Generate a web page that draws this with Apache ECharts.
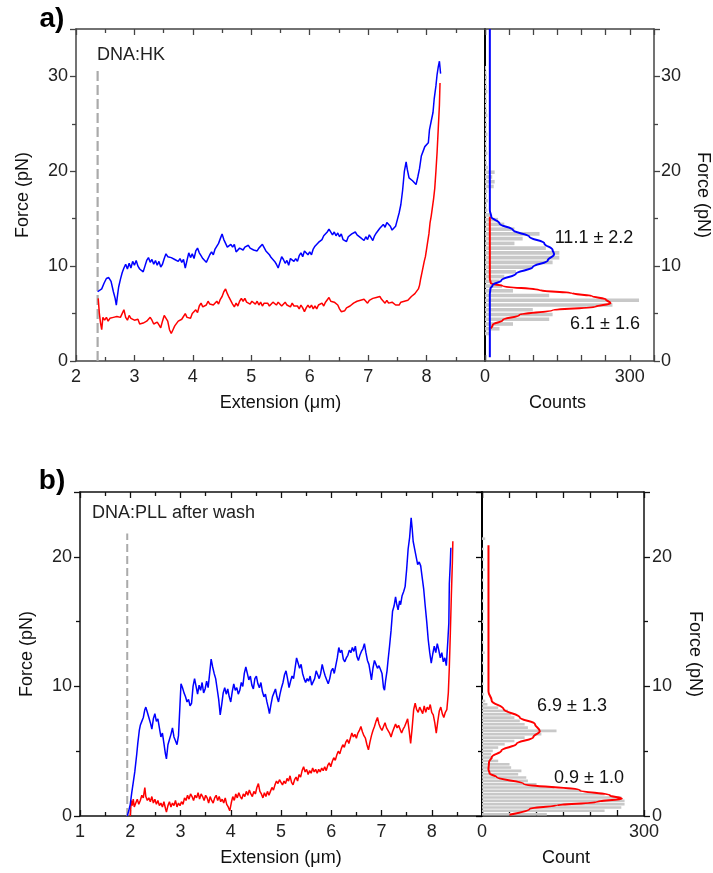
<!DOCTYPE html>
<html><head><meta charset="utf-8">
<script src="https://cdn.jsdelivr.net/npm/echarts/dist/echarts.min.js"></script>
<style>html,body{margin:0;padding:0;background:#fff}#c{width:713px;height:873px}</style>
</head><body><div id="c"></div>
<script>
// ---------------- DATA ----------------
// Panel a: force-extension traces [extension µm, force pN]
const traceA_blue = [[2.37,7.3],[2.40,7.4],[2.44,7.6],[2.48,8.2],[2.52,8.7],[2.56,8.8],[2.60,8.4],[2.64,7.3],[2.67,6.6],[2.69,5.9],[2.71,6.9],[2.73,7.8],[2.76,8.6],[2.79,9.3],[2.82,9.8],[2.85,10.2],[2.88,9.7],[2.91,10.3],[2.94,9.8],[2.97,10.5],[3.00,10.1],[3.03,10.6],[3.06,10.0],[3.09,9.7],[3.12,9.9],[3.15,9.4],[3.18,10.0],[3.21,10.6],[3.24,10.9],[3.27,10.4],[3.30,10.7],[3.33,10.2],[3.36,10.6],[3.39,10.1],[3.42,10.5],[3.45,9.9],[3.48,10.2],[3.51,10.8],[3.54,11.3],[3.57,11.0],[3.60,11.2],[3.63,10.9],[3.66,11.1],[3.69,10.7],[3.72,10.9],[3.75,10.5],[3.78,10.8],[3.81,10.4],[3.84,10.7],[3.87,9.8],[3.90,10.6],[3.93,11.4],[3.96,10.9],[3.99,11.3],[4.02,10.8],[4.05,11.6],[4.08,11.9],[4.11,11.4],[4.14,11.1],[4.17,10.8],[4.20,11.0],[4.23,10.4],[4.26,10.6],[4.29,11.2],[4.32,11.5],[4.35,11.2],[4.38,11.8],[4.41,12.0],[4.44,12.4],[4.47,12.9],[4.50,13.4],[4.53,12.8],[4.56,12.6],[4.59,12.0],[4.62,11.8],[4.65,12.3],[4.68,12.0],[4.71,12.3],[4.74,11.5],[4.77,11.3],[4.80,11.9],[4.83,12.1],[4.86,11.7],[4.89,12.0],[4.92,11.8],[4.95,12.2],[4.98,11.9],[5.01,12.1],[5.04,11.7],[5.07,11.9],[5.10,11.6],[5.13,11.9],[5.16,11.7],[5.19,12.3],[5.22,12.1],[5.25,11.6],[5.28,11.4],[5.31,11.2],[5.34,10.9],[5.37,11.1],[5.40,10.5],[5.43,10.2],[5.46,9.8],[5.49,10.4],[5.52,11.0],[5.55,10.7],[5.58,10.3],[5.61,10.6],[5.64,10.1],[5.67,10.8],[5.70,11.0],[5.73,10.5],[5.76,10.8],[5.79,10.5],[5.82,11.1],[5.85,11.4],[5.88,11.0],[5.91,11.6],[5.94,11.8],[5.97,11.2],[6.00,11.5],[6.03,11.2],[6.06,11.8],[6.09,12.1],[6.12,12.0],[6.15,12.5],[6.18,12.3],[6.21,12.8],[6.24,13.2],[6.27,13.1],[6.30,13.6],[6.33,13.9],[6.36,13.7],[6.39,13.3],[6.42,13.6],[6.45,13.2],[6.48,13.5],[6.51,13.1],[6.54,13.4],[6.57,12.8],[6.60,13.0],[6.63,12.6],[6.66,13.1],[6.69,12.9],[6.72,13.4],[6.75,13.2],[6.78,13.6],[6.81,13.3],[6.84,13.5],[6.87,13.0],[6.90,13.2],[6.93,12.7],[6.96,13.1],[6.99,12.8],[7.02,13.3],[7.05,13.0],[7.08,12.7],[7.11,13.2],[7.14,13.5],[7.17,13.7],[7.20,14.0],[7.23,13.9],[7.26,14.4],[7.29,14.1],[7.32,14.6],[7.35,14.8],[7.38,14.2],[7.41,13.8],[7.44,13.6],[7.47,14.2],[7.50,14.9],[7.53,15.6],[7.56,16.5],[7.59,18.0],[7.62,20.0],[7.65,21.0],[7.67,20.2],[7.70,19.3],[7.73,19.1],[7.76,19.0],[7.79,18.8],[7.82,18.6],[7.85,19.4],[7.88,20.3],[7.91,21.6],[7.94,22.1],[7.97,22.6],[8.00,22.5],[8.03,23.0],[8.05,24.4],[8.08,25.3],[8.11,26.2],[8.13,27.6],[8.16,29.0],[8.18,30.2],[8.20,31.0],[8.22,31.6],[8.24,30.3]];
const traceA_red = [[2.38,6.6],[2.40,5.0],[2.42,4.0],[2.44,3.3],[2.46,4.6],[2.49,4.3],[2.52,4.6],[2.55,4.2],[2.58,4.5],[2.61,4.3],[2.64,4.6],[2.67,4.4],[2.70,4.7],[2.73,4.5],[2.76,4.6],[2.79,5.0],[2.82,5.4],[2.85,4.6],[2.88,4.3],[2.91,4.8],[2.94,4.5],[2.97,4.7],[3.00,4.3],[3.03,4.1],[3.06,4.4],[3.09,3.9],[3.12,3.7],[3.15,4.0],[3.18,3.8],[3.21,4.2],[3.24,4.0],[3.27,4.6],[3.30,4.3],[3.33,3.9],[3.36,3.7],[3.39,4.1],[3.42,3.8],[3.45,3.5],[3.48,4.2],[3.51,4.8],[3.54,5.0],[3.57,4.2],[3.60,3.3],[3.63,2.9],[3.66,3.3],[3.69,3.7],[3.72,3.9],[3.75,4.2],[3.78,4.0],[3.81,4.4],[3.84,4.6],[3.87,5.0],[3.90,4.6],[3.93,4.8],[3.96,4.5],[3.99,5.0],[4.02,5.2],[4.05,5.4],[4.08,5.1],[4.11,5.8],[4.14,6.1],[4.17,5.7],[4.20,5.5],[4.23,5.9],[4.26,6.3],[4.29,6.0],[4.32,6.2],[4.35,5.9],[4.38,6.1],[4.41,6.3],[4.44,6.0],[4.47,6.5],[4.50,6.8],[4.53,7.3],[4.56,7.6],[4.59,7.1],[4.62,6.7],[4.65,6.5],[4.68,6.0],[4.71,5.7],[4.74,6.1],[4.77,5.8],[4.80,6.3],[4.83,6.6],[4.86,6.3],[4.89,6.6],[4.92,6.2],[4.95,6.4],[4.98,6.0],[5.01,6.3],[5.04,6.1],[5.07,6.0],[5.10,6.3],[5.13,5.9],[5.16,6.2],[5.19,5.8],[5.22,6.1],[5.25,5.9],[5.28,6.1],[5.31,5.8],[5.34,6.0],[5.37,6.2],[5.40,6.0],[5.43,5.9],[5.46,6.2],[5.49,6.1],[5.52,5.8],[5.55,6.0],[5.58,6.2],[5.61,5.9],[5.64,6.0],[5.67,5.7],[5.70,6.1],[5.73,5.8],[5.76,6.0],[5.79,5.8],[5.82,5.5],[5.85,5.9],[5.88,5.6],[5.91,5.2],[5.94,5.6],[5.97,5.9],[6.00,5.6],[6.03,5.9],[6.06,5.5],[6.09,5.8],[6.12,5.5],[6.15,5.9],[6.18,6.0],[6.21,6.1],[6.24,5.8],[6.27,6.2],[6.30,6.4],[6.33,6.7],[6.36,6.3],[6.39,6.5],[6.42,6.2],[6.45,6.3],[6.48,5.9],[6.51,5.5],[6.54,5.2],[6.57,5.0],[6.60,5.3],[6.63,5.6],[6.66,5.4],[6.69,5.8],[6.72,5.9],[6.75,6.1],[6.78,6.0],[6.81,6.3],[6.84,6.1],[6.87,6.4],[6.90,6.2],[6.93,6.5],[6.96,6.3],[6.99,6.1],[7.02,6.4],[7.05,6.2],[7.08,6.6],[7.11,6.4],[7.14,6.7],[7.17,6.5],[7.20,6.8],[7.23,6.5],[7.26,6.3],[7.29,6.1],[7.32,6.4],[7.35,6.1],[7.38,5.9],[7.41,6.2],[7.44,6.0],[7.47,5.9],[7.50,6.1],[7.53,5.9],[7.56,6.2],[7.59,6.0],[7.62,6.3],[7.65,6.1],[7.68,6.4],[7.71,6.5],[7.74,6.8],[7.77,6.7],[7.80,7.1],[7.83,7.3],[7.86,7.6],[7.88,8.0],[7.90,8.7],[7.92,9.3],[7.94,9.9],[7.96,10.5],[7.98,11.0],[8.00,11.8],[8.02,12.6],[8.04,13.4],[8.06,14.6],[8.08,15.3],[8.10,16.2],[8.12,17.1],[8.14,18.2],[8.16,20.0],[8.18,22.0],[8.20,24.5],[8.22,27.0],[8.23,29.3]];
const dashA = [[2.37,0],[2.37,30.8]];

// Panel a: histogram (bin centre force, counts) and fitted curves [counts, force]
const histA_force = [2.9,3.4,3.9,4.4,4.9,5.4,5.9,6.4,6.9,7.4,7.9,8.4,8.9,9.4,9.9,10.4,10.9,11.4,11.9,12.4,12.9,13.4,13.9,14.4,14.9,15.4,15.9,16.4,16.9,17.4,17.9,18.4,18.9,19.4,19.9,20.4,20.9,21.4,21.9,22.4,22.9,23.4,23.9,24.4,24.9,25.4,25.9,26.4,26.9,27.4,27.9,28.4,28.9,29.4,29.9,30.4,30.9];
const histA_count = [10,30,58,133,140,99,264,319,133,58,35,30,40,64,99,140,154,154,126,61,78,113,61,40,27,12,5,4,6,4,5,18,20,15,20,6,4,3,5,4,3,4,5,3,4,3,5,4,3,4,3,5,4,3,4,3,2];
const fitA_red = [[10,15.2],[10,12.0],[10,9.5],[10,8.7],[12,8.2],[37,7.9],[113,7.47],[180,7.15],[222,6.84],[250,6.5],[260,6.1],[229,5.72],[140,5.37],[71,4.84],[37,4.32],[16,3.79],[12,3.44]];
const fitA_blue = [[10,0.4],[10,7.0],[11,7.6],[16,8.0],[34,8.5],[64,9.2],[99,9.9],[130,10.6],[143,11.26],[140,11.7],[123,12.4],[92,13.1],[58,13.8],[30,14.5],[13,15.2],[10,15.9],[10,35]];

// Panel b: force-extension traces
const traceB_blue = [[1.94,0.0],[1.97,0.4],[2.00,0.9],[2.03,1.8],[2.06,2.6],[2.09,3.4],[2.11,3.5],[2.13,4.8],[2.15,5.6],[2.18,6.6],[2.20,7.0],[2.23,7.3],[2.26,7.6],[2.29,8.2],[2.31,8.4],[2.34,8.0],[2.37,7.6],[2.40,7.2],[2.43,6.7],[2.46,7.5],[2.49,7.9],[2.52,7.3],[2.55,7.5],[2.58,6.8],[2.61,6.1],[2.64,6.4],[2.67,5.6],[2.70,4.8],[2.72,4.4],[2.75,5.5],[2.78,5.9],[2.81,6.3],[2.84,6.8],[2.87,6.1],[2.90,5.8],[2.93,5.5],[2.96,6.2],[2.99,8.6],[3.01,10.2],[3.04,9.9],[3.07,9.5],[3.10,9.2],[3.13,8.8],[3.16,9.0],[3.19,8.5],[3.22,8.7],[3.25,10.0],[3.28,10.6],[3.31,10.0],[3.34,9.4],[3.37,10.1],[3.40,9.7],[3.43,10.3],[3.46,9.5],[3.49,9.8],[3.52,10.4],[3.55,9.9],[3.58,11.0],[3.61,12.1],[3.64,11.5],[3.67,11.0],[3.70,10.6],[3.73,9.8],[3.76,9.0],[3.79,7.8],[3.82,8.6],[3.85,9.5],[3.88,9.9],[3.91,9.4],[3.94,9.8],[3.97,9.2],[4.00,8.8],[4.03,9.6],[4.06,10.2],[4.09,9.7],[4.12,9.9],[4.15,9.4],[4.18,9.7],[4.21,10.3],[4.24,10.0],[4.27,11.0],[4.30,11.5],[4.33,11.0],[4.36,10.5],[4.39,10.8],[4.42,10.1],[4.45,9.8],[4.48,10.6],[4.51,10.8],[4.54,10.2],[4.57,9.9],[4.60,10.3],[4.63,9.6],[4.66,9.2],[4.69,9.4],[4.72,8.8],[4.75,8.3],[4.77,7.9],[4.80,8.6],[4.83,9.2],[4.86,9.5],[4.89,9.8],[4.92,9.2],[4.95,8.8],[4.98,9.4],[5.01,9.9],[5.04,10.3],[5.07,10.9],[5.10,11.2],[5.13,10.6],[5.16,9.9],[5.19,10.4],[5.22,10.8],[5.25,10.6],[5.28,11.4],[5.31,12.2],[5.34,11.8],[5.37,11.4],[5.40,11.7],[5.43,11.0],[5.46,10.6],[5.49,10.3],[5.52,10.6],[5.55,10.4],[5.58,10.8],[5.61,10.1],[5.64,10.0],[5.67,10.6],[5.70,11.2],[5.73,10.9],[5.76,10.6],[5.79,11.0],[5.82,11.7],[5.85,11.2],[5.88,10.8],[5.91,10.5],[5.94,10.2],[5.97,10.6],[6.00,11.2],[6.03,11.4],[6.06,11.0],[6.09,11.6],[6.12,12.2],[6.15,13.0],[6.18,12.6],[6.21,12.8],[6.24,12.1],[6.27,11.9],[6.30,12.2],[6.33,12.4],[6.36,12.8],[6.39,12.6],[6.42,13.0],[6.45,12.7],[6.48,13.1],[6.51,12.3],[6.54,12.0],[6.57,12.4],[6.60,12.7],[6.63,12.9],[6.66,13.3],[6.69,12.6],[6.72,12.0],[6.75,11.7],[6.78,11.0],[6.80,10.5],[6.83,11.4],[6.86,12.0],[6.89,11.7],[6.92,11.4],[6.95,11.6],[6.98,11.3],[7.01,11.0],[7.04,9.9],[7.06,9.7],[7.08,10.4],[7.11,11.2],[7.13,12.0],[7.16,13.1],[7.19,14.3],[7.22,15.8],[7.25,16.2],[7.28,16.9],[7.30,16.4],[7.33,15.9],[7.36,16.6],[7.38,16.3],[7.41,17.0],[7.44,17.3],[7.47,17.7],[7.50,19.0],[7.53,20.6],[7.56,21.5],[7.59,23.0],[7.61,22.2],[7.63,21.2],[7.66,20.6],[7.69,20.0],[7.72,19.4],[7.75,19.6],[7.78,19.3],[7.81,18.4],[7.84,17.5],[7.87,16.2],[7.90,15.0],[7.93,13.6],[7.96,12.6],[7.99,11.8],[8.02,12.5],[8.05,13.1],[8.08,12.6],[8.11,13.3],[8.14,12.8],[8.17,12.2],[8.20,12.6],[8.23,11.9],[8.26,12.2],[8.29,11.6],[8.31,11.5],[8.32,13.5],[8.34,14.9],[8.35,17.9],[8.37,19.6],[8.38,20.7]];
const traceB_red = [[2.00,0.0],[2.02,1.2],[2.04,0.8],[2.06,1.3],[2.08,0.7],[2.11,1.0],[2.14,1.3],[2.17,0.9],[2.20,1.2],[2.23,1.6],[2.26,1.4],[2.29,2.2],[2.31,1.5],[2.34,1.2],[2.37,1.4],[2.40,1.1],[2.43,1.5],[2.46,1.0],[2.49,1.3],[2.52,0.9],[2.55,1.2],[2.58,0.8],[2.61,1.0],[2.64,0.7],[2.67,1.1],[2.70,0.6],[2.72,0.3],[2.75,0.8],[2.78,1.1],[2.81,0.7],[2.84,1.0],[2.87,0.8],[2.90,1.2],[2.93,0.7],[2.96,1.0],[2.99,0.8],[3.02,1.1],[3.05,0.9],[3.08,1.4],[3.11,1.2],[3.14,1.6],[3.17,1.3],[3.20,1.7],[3.23,1.5],[3.26,1.2],[3.29,1.6],[3.32,1.4],[3.35,1.8],[3.38,1.3],[3.41,1.7],[3.44,1.5],[3.47,1.2],[3.50,1.6],[3.53,1.4],[3.56,1.0],[3.59,1.5],[3.62,1.2],[3.65,1.0],[3.68,1.4],[3.71,1.6],[3.74,1.2],[3.77,1.5],[3.80,1.1],[3.83,1.3],[3.86,1.0],[3.89,1.4],[3.92,0.9],[3.95,0.7],[3.98,0.4],[4.01,1.0],[4.04,1.5],[4.07,1.2],[4.10,1.7],[4.13,1.4],[4.16,1.8],[4.19,1.5],[4.22,1.3],[4.25,1.7],[4.28,1.5],[4.31,1.9],[4.34,1.6],[4.37,2.0],[4.40,1.7],[4.43,1.5],[4.46,1.9],[4.49,1.7],[4.52,2.2],[4.55,2.5],[4.58,1.9],[4.61,1.7],[4.64,1.4],[4.67,1.8],[4.70,1.5],[4.73,1.9],[4.76,1.6],[4.79,1.9],[4.82,2.2],[4.85,2.0],[4.88,2.4],[4.91,2.7],[4.94,2.5],[4.97,2.8],[5.00,2.6],[5.03,2.4],[5.06,2.7],[5.09,2.5],[5.12,2.9],[5.15,2.7],[5.18,3.1],[5.21,2.6],[5.24,2.4],[5.27,2.8],[5.30,3.0],[5.33,2.7],[5.36,3.2],[5.39,3.0],[5.42,3.5],[5.45,3.8],[5.48,3.4],[5.51,3.6],[5.54,3.2],[5.57,3.5],[5.60,3.3],[5.63,3.7],[5.66,3.4],[5.69,3.6],[5.72,3.3],[5.75,3.6],[5.78,3.4],[5.81,3.7],[5.84,3.5],[5.87,3.8],[5.90,3.5],[5.93,3.9],[5.96,4.1],[5.99,3.8],[6.02,4.2],[6.05,4.5],[6.08,4.3],[6.11,4.7],[6.14,5.0],[6.17,4.8],[6.20,5.2],[6.23,5.5],[6.26,5.3],[6.29,5.7],[6.32,5.9],[6.35,5.6],[6.38,6.0],[6.41,6.4],[6.44,6.1],[6.47,6.3],[6.50,6.0],[6.53,6.4],[6.56,6.6],[6.59,6.9],[6.62,6.5],[6.65,6.2],[6.68,6.0],[6.71,5.5],[6.74,5.1],[6.77,5.7],[6.80,6.2],[6.83,6.6],[6.86,6.9],[6.89,7.3],[6.92,7.6],[6.95,7.1],[6.98,6.8],[7.01,6.6],[7.04,6.9],[7.07,7.2],[7.10,6.8],[7.13,6.9],[7.16,6.4],[7.19,6.1],[7.22,6.5],[7.25,6.8],[7.28,7.1],[7.31,6.8],[7.34,7.0],[7.37,6.7],[7.40,6.4],[7.43,6.7],[7.46,6.9],[7.49,7.2],[7.52,7.5],[7.55,6.6],[7.58,5.6],[7.61,6.8],[7.64,8.2],[7.67,8.7],[7.70,8.2],[7.73,8.0],[7.76,8.4],[7.79,8.3],[7.82,7.9],[7.85,8.5],[7.88,8.0],[7.91,8.4],[7.94,8.2],[7.97,8.6],[8.00,8.0],[8.03,7.8],[8.06,7.2],[8.09,6.4],[8.12,7.3],[8.15,8.1],[8.18,8.4],[8.21,7.9],[8.24,7.6],[8.27,8.0],[8.30,8.2],[8.33,9.5],[8.35,11.5],[8.37,14.1],[8.39,17.0],[8.41,19.5],[8.42,21.2]];
const dashB = [[1.94,0],[1.94,21.8]];

// Panel b: histogram and fit
const histB_force = [0.14,0.40,0.65,0.91,1.17,1.43,1.68,1.94,2.20,2.45,2.71,2.97,3.22,3.48,3.74,3.99,4.25,4.51,4.77,5.02,5.28,5.54,5.79,6.05,6.31,6.57,6.82,7.08,7.34,7.59,7.85,8.11,8.36,8.62,8.88,9.4,10.2,11.0,11.8,12.6,13.4,14.2,15.0,15.8,16.6,17.4,18.2,19.0,19.8,20.6,21.4];
const histB_count = [120,227,258,264,264,258,227,184,134,101,85,82,67,73,54,51,30,20,17,20,30,42,60,79,110,138,85,79,70,60,54,48,30,10,6,4,3,4,3,5,3,4,3,4,3,4,3,5,4,3,6];
const fitB_red = [[12,20.9],[12,9.6],[18,8.9],[40,8.26],[70,7.6],[98,7.1],[107,6.54],[95,6.08],[64,5.57],[36,5.05],[18,4.54],[13,4.15],[12,3.6],[14,3.3],[27,3.0],[77,2.49],[181,1.98],[237,1.59],[259,1.34],[212,1.08],[138,0.82],[89,0.57],[51,0.1]];

// Axis tick values
const ticksExtA = [2,3,4,5,6,7,8];
const ticksExtB = [1,2,3,4,5,6,7,8];
const ticksCount = [0,300];
const ticksForce = [0,10,20,30];

// ---------------- CHART ----------------
const FONT = 'Arial, "Liberation Sans", sans-serif';
const BLUE = '#0000ff', RED = '#ff0000', GRAY = '#c8c8c8';
const BAR_A = 0.38, BAR_B = 0.2;
const colA = '#444', colB = '#111';

function xAx(o) {
  return {
    type: 'value', gridIndex: o.grid, min: o.min, max: o.max, interval: o.interval,
    position: o.pos || 'bottom',
    name: o.name || '', nameLocation: 'middle', nameGap: 33,
    nameTextStyle: { fontSize: 18, color: '#111', fontFamily: FONT, padding: o.namePad || 0 },
    axisLine: { show: true, onZero: false, lineStyle: { color: o.color, width: 1.5 } },
    axisTick: { show: true, inside: true, length: 6, lineStyle: { color: o.color, width: 1.3 } },
    minorTick: { show: !!o.minor, splitNumber: 2, length: 4, lineStyle: { color: o.color, width: 1.3 } },
    axisLabel: { show: !!o.labels, fontSize: 18, color: '#222', fontFamily: FONT, margin: 7,
      formatter: v => (o.labels && o.labels.indexOf(v) >= 0 ? String(v) : '') },
    splitLine: { show: false }, minorSplitLine: { show: false }
  };
}
function yAx(o) {
  return {
    type: 'value', gridIndex: o.grid, min: o.min, max: o.max, interval: 10, position: o.pos,
    name: o.name || '', nameLocation: 'middle', nameGap: o.nameGap || 40, nameRotate: o.rot,
    nameTextStyle: { fontSize: 18, color: '#111', fontFamily: FONT },
    axisLine: { show: true, onZero: false, lineStyle: { color: o.color, width: o.lw || 1.5 } },
    axisTick: { show: o.ticks !== false, inside: false, length: 6, lineStyle: { color: o.color, width: 1.3 } },
    minorTick: { show: o.ticks !== false, splitNumber: 2, length: 4, lineStyle: { color: o.color, width: 1.3 } },
    axisLabel: { show: !!o.labels, fontSize: 18, color: '#222', fontFamily: FONT, margin: o.margin || 8,
      formatter: v => (o.labels && o.labels.indexOf(v) >= 0 ? String(v) : '') },
    splitLine: { show: false }, minorSplitLine: { show: false }
  };
}
function bars(xi, yi, forces, counts, h) {
  return {
    type: 'custom', xAxisIndex: xi, yAxisIndex: yi, silent: true, z: 1, clip: true,
    data: counts.map((c, i) => [c, forces[i]]), encode: { x: 0, y: 1 },
    renderItem: (params, api) => {
      const c = api.value(0), f = api.value(1);
      const a = api.coord([0, f + h / 2]), b = api.coord([c, f - h / 2]);
      return { type: 'rect', shape: { x: a[0], y: a[1], width: b[0] - a[0], height: b[1] - a[1] }, style: { fill: GRAY } };
    }
  };
}
function line(xi, yi, data, color, w, extra) {
  return Object.assign({ type: 'line', xAxisIndex: xi, yAxisIndex: yi, data: data, showSymbol: false, symbol: 'none',
    lineStyle: { color: color, width: w }, itemStyle: { color: color }, silent: true, z: 3, animation: false }, extra || {});
}

const chart = echarts.init(document.getElementById('c'), null, { renderer: 'canvas' });
chart.setOption({
  animation: false,
  backgroundColor: '#fff',
  grid: [
    { left: 76, top: 29, width: 409, height: 332 },
    { left: 485, top: 29, width: 169, height: 332 },
    { left: 80, top: 492, width: 402, height: 324 },
    { left: 482, top: 492, width: 162, height: 324 }
  ],
  xAxis: [
    xAx({ grid: 0, min: 2, max: 9, interval: 1, labels: ticksExtA, minor: true, color: colA, name: 'Extension (\u03bcm)' }),
    xAx({ grid: 1, min: 0, max: 350, interval: 50, labels: ticksCount, color: colA, name: 'Counts', namePad: [0, 24, 0, 0] }),
    xAx({ grid: 2, min: 1, max: 9, interval: 1, labels: ticksExtB, minor: true, color: colB, name: 'Extension (\u03bcm)' }),
    xAx({ grid: 3, min: 0, max: 300, interval: 50, labels: ticksCount, color: colB, name: 'Count', namePad: [0, 0, 0, 6] }),
    xAx({ grid: 0, min: 2, max: 9, interval: 1, pos: 'top', minor: true, color: colA }),
    xAx({ grid: 1, min: 0, max: 350, interval: 50, pos: 'top', color: colA }),
    xAx({ grid: 2, min: 1, max: 9, interval: 1, pos: 'top', minor: true, color: colB }),
    xAx({ grid: 3, min: 0, max: 300, interval: 50, pos: 'top', color: colB })
  ],
  yAxis: [
    yAx({ grid: 0, min: 0, max: 35, pos: 'left', labels: ticksForce, color: colA, name: 'Force (pN)', rot: 90, nameGap: 44 }),
    yAx({ grid: 1, min: 0, max: 35, pos: 'left', color: '#000', lw: 2, ticks: false }),
    yAx({ grid: 1, min: 0, max: 35, pos: 'right', labels: ticksForce, color: colA, name: 'Force (pN)', rot: -90, nameGap: 40, margin: 7 }),
    yAx({ grid: 2, min: 0, max: 25, pos: 'left', labels: ticksForce, color: colB, name: 'Force (pN)', rot: 90, nameGap: 44 }),
    yAx({ grid: 3, min: 0, max: 25, pos: 'left', color: '#000', lw: 2 }),
    yAx({ grid: 3, min: 0, max: 25, pos: 'right', labels: ticksForce, color: colB, name: 'Force (pN)', rot: -90, nameGap: 42, margin: 8 })
  ],
  series: [
    line(0, 0, dashA, '#aaaaaa', 2, { lineStyle: { color: '#aaaaaa', width: 2.2, type: [10, 4] }, z: 2 }),
    line(0, 0, traceA_red, RED, 1.5),
    line(0, 0, traceA_blue, BLUE, 1.5),
    bars(1, 1, histA_force, histA_count, BAR_A),
    line(1, 1, fitA_red, RED, 2, { smooth: 0.4, smoothMonotone: 'y' }),
    line(1, 1, fitA_blue, BLUE, 2, { smooth: 0.4, smoothMonotone: 'y' }),
    line(2, 3, dashB, '#aaaaaa', 2, { lineStyle: { color: '#aaaaaa', width: 2, type: [8, 4] }, z: 2 }),
    line(2, 3, traceB_red, RED, 1.5),
    line(2, 3, traceB_blue, BLUE, 1.5),
    bars(3, 4, histB_force, histB_count, BAR_B),
    line(3, 4, fitB_red, RED, 2, { smooth: 0.4, smoothMonotone: 'y' })
  ],
  graphic: [
    { type: 'text', x: 52, y: 19, style: { text: 'a)', font: 'bold 28px ' + FONT, fill: '#000', align: 'center', verticalAlign: 'middle' } },
    { type: 'text', x: 52, y: 481, style: { text: 'b)', font: 'bold 28px ' + FONT, fill: '#000', align: 'center', verticalAlign: 'middle' } },
    { type: 'text', x: 97, y: 55, style: { text: 'DNA:HK', font: '18px ' + FONT, fill: '#222', align: 'left', verticalAlign: 'middle' } },
    { type: 'text', x: 92, y: 513, style: { text: 'DNA:PLL after wash', font: '18px ' + FONT, fill: '#222', align: 'left', verticalAlign: 'middle' } },
    { type: 'text', x: 594, y: 238, style: { text: '11.1 \u00b1 2.2', font: '18px ' + FONT, fill: '#111', align: 'center', verticalAlign: 'middle' } },
    { type: 'text', x: 605, y: 324, style: { text: '6.1 \u00b1 1.6', font: '18px ' + FONT, fill: '#111', align: 'center', verticalAlign: 'middle' } },
    { type: 'text', x: 572, y: 706, style: { text: '6.9 \u00b1 1.3', font: '18px ' + FONT, fill: '#111', align: 'center', verticalAlign: 'middle' } },
    { type: 'text', x: 589, y: 778, style: { text: '0.9 \u00b1 1.0', font: '18px ' + FONT, fill: '#111', align: 'center', verticalAlign: 'middle' } }
  ]
});
</script></body></html>
